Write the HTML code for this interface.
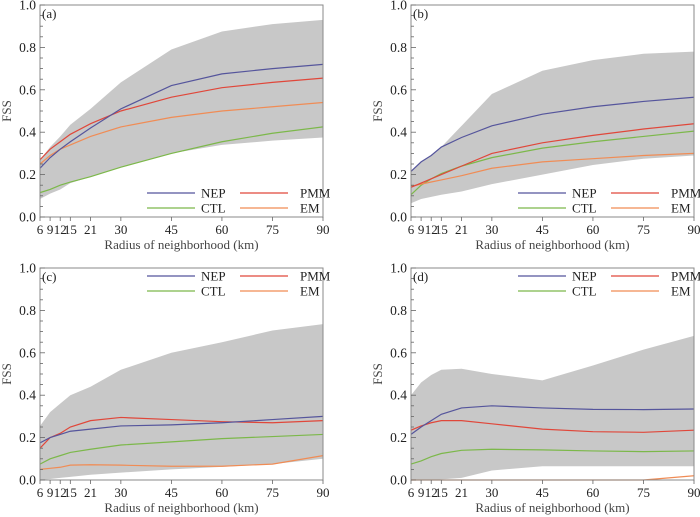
<!DOCTYPE html>
<html><head><meta charset="utf-8"><style>
html,body{margin:0;padding:0;background:#fff;}
svg{display:block;}
svg text{font-family:"Liberation Serif","DejaVu Serif",serif;}
</style></head><body>
<svg id="fig" width="700" height="517" viewBox="0 0 700 517" font-family="Liberation Serif, serif"></svg>
<script>
const xCats = [6,9,12,15,21,30,45,60,75,90];
const yTicks = [0,0.2,0.4,0.6,0.8,1.0];
const seriesNames = ["NEP","PMM","CTL","EM"];
const seriesColors = {NEP:"#55559c",PMM:"#e0473a",CTL:"#7cb84a",EM:"#f08c55"};
const panelLabels = ["(a)","(b)","(c)","(d)"];
// panel a
const aNEP=[0.23,0.28,0.32,0.355,0.42,0.51,0.62,0.675,0.70,0.72];
const aPMM=[0.27,0.32,0.355,0.39,0.44,0.50,0.565,0.61,0.635,0.655];
const aCTL=[0.115,0.13,0.15,0.165,0.19,0.235,0.30,0.355,0.395,0.425];
const aEM=[0.25,0.29,0.32,0.34,0.38,0.425,0.47,0.50,0.52,0.54];
const aUp=[0.27,0.33,0.38,0.435,0.51,0.635,0.79,0.875,0.91,0.93];
const aLo=[0.085,0.11,0.13,0.16,0.19,0.235,0.30,0.34,0.36,0.375];
// panel b
const bNEP=[0.215,0.26,0.29,0.33,0.375,0.43,0.485,0.52,0.545,0.565];
const bPMM=[0.14,0.16,0.18,0.20,0.24,0.30,0.35,0.385,0.415,0.44];
const bCTL=[0.105,0.15,0.18,0.205,0.24,0.28,0.325,0.355,0.38,0.405];
const bEM=[0.145,0.155,0.165,0.175,0.195,0.23,0.26,0.275,0.29,0.30];
const bUp=[0.22,0.26,0.29,0.33,0.43,0.58,0.69,0.74,0.77,0.78];
const bLo=[0.065,0.085,0.095,0.105,0.12,0.155,0.20,0.245,0.275,0.29];
// panel c
const cNEP=[0.175,0.20,0.215,0.23,0.24,0.255,0.26,0.27,0.285,0.30];
const cPMM=[0.15,0.20,0.22,0.25,0.28,0.295,0.285,0.275,0.27,0.28];
const cCTL=[0.075,0.10,0.115,0.13,0.145,0.165,0.18,0.195,0.205,0.215];
const cEM=[0.05,0.055,0.06,0.07,0.072,0.07,0.065,0.065,0.075,0.115];
const cUp=[0.255,0.32,0.36,0.40,0.44,0.52,0.60,0.65,0.705,0.735];
const cLo=[0,0.005,0.01,0.015,0.025,0.035,0.05,0.062,0.075,0.10];
// panel d
const dNEP=[0.215,0.25,0.28,0.31,0.34,0.35,0.34,0.333,0.332,0.335];
const dPMM=[0.235,0.255,0.27,0.28,0.28,0.265,0.24,0.228,0.225,0.235];
const dCTL=[0.075,0.09,0.11,0.125,0.14,0.145,0.142,0.137,0.134,0.137];
const dEM=[0,0,0,0,0,0,0,0,0,0.02];
const dUp=[0.40,0.46,0.495,0.52,0.525,0.50,0.47,0.54,0.615,0.68];
const dLo=[0,0,0,0.003,0.01,0.045,0.065,0.065,0.065,0.065];

const panels=[
 {id:"a",L:40,T:5,s:{NEP:aNEP,PMM:aPMM,CTL:aCTL,EM:aEM},up:aUp,lo:aLo,leg:"bottom"},
 {id:"b",L:411,T:5,s:{NEP:bNEP,PMM:bPMM,CTL:bCTL,EM:bEM},up:bUp,lo:bLo,leg:"bottom"},
 {id:"c",L:40,T:268,s:{NEP:cNEP,PMM:cPMM,CTL:cCTL,EM:cEM},up:cUp,lo:cLo,leg:"top"},
 {id:"d",L:411,T:268,s:{NEP:dNEP,PMM:dPMM,CTL:dCTL,EM:dEM},up:dUp,lo:dLo,leg:"top"}
];
const W=283,H=212,NS="http://www.w3.org/2000/svg",FF="Liberation Serif, DejaVu Serif, serif";
const svg=document.getElementById("fig");
function mk(tag,attrs,parent,text){const e=document.createElementNS(NS,tag);for(const k in attrs)e.setAttribute(k,attrs[k]);if(text!==undefined){e.setAttribute("font-family",FF);e.textContent=text;}parent.appendChild(e);return e;}
panels.forEach((p,pi)=>{
 const xs=v=>p.L+(v-6)/84*W, ys=v=>p.T+H-v*H;
 const g=mk("g",{},svg);
 
 
 let d="M"+xCats.map((x,i)=>xs(x)+","+ys(p.up[i])).join("L");
 for(let i=xCats.length-1;i>=0;i--)d+="L"+xs(xCats[i])+","+ys(p.lo[i]);
 const band=mk("path",{d:d+"Z",fill:"#c8c8c8",stroke:"none"},g);
 
 
 ["CTL","EM","PMM","NEP"].forEach(n=>{
  const ln=mk("polyline",{points:xCats.map((x,i)=>xs(x)+","+ys(p.s[n][i])).join(" "),fill:"none",stroke:seriesColors[n],"stroke-width":1.2},g);
  
  
 });
 const fr=mk("rect",{x:p.L,y:p.T,width:W,height:H,fill:"none",stroke:"#8a8a8a","stroke-width":1},g);
 
 
 for(let k=0;k<=20;k++){const v=k*0.05,len=(k%4===0)?5:3;
  mk("line",{x1:p.L,x2:p.L+len,y1:ys(v),y2:ys(v),stroke:"#666","stroke-width":0.8},g);}
 yTicks.forEach(v=>{const t=mk("text",{x:p.L-4,y:ys(v)+4.5,"text-anchor":"end","font-size":13.5,fill:"#222"},g,v.toFixed(1));
  });
 xCats.forEach(v=>{mk("line",{x1:xs(v),x2:xs(v),y1:p.T+H,y2:p.T+H+4,stroke:"#666","stroke-width":0.8},g);
  const t=mk("text",{x:xs(v),y:p.T+H+17,"text-anchor":"middle","font-size":13,fill:"#222"},g,String(v));
  });
 const xt=mk("text",{x:p.L+W/2,y:p.T+H+32,"text-anchor":"middle","font-size":13,fill:"#444"},g,"Radius of neighborhood (km)");
 
 const yt=mk("text",{x:0,y:0,transform:"translate("+(p.L-29)+","+(p.T+H/2)+") rotate(-90)","text-anchor":"middle","font-size":13,fill:"#444"},g,"FSS");
 
 const pl=mk("text",{x:p.L+2,y:p.T+13,"font-size":13,fill:"#222"},g,panelLabels[pi]);
 
 const ly=p.leg==="bottom"?p.T+188:p.T+8;
 const pos={NEP:[107,0],PMM:[200,0],CTL:[107,15],EM:[200,15]};
 seriesNames.forEach(n=>{const [ox,oy]=pos[n];
  const le=mk("g",{},g);
  
  
  mk("line",{x1:p.L+ox,x2:p.L+ox+48,y1:ly+oy,y2:ly+oy,stroke:seriesColors[n],"stroke-width":1.2},le);
  mk("text",{x:p.L+ox+(n==="NEP"||n==="CTL"?54:60),y:ly+oy+4.5,"font-size":13,fill:"#222"},le,n);
 });
});
</script>
</body></html>
